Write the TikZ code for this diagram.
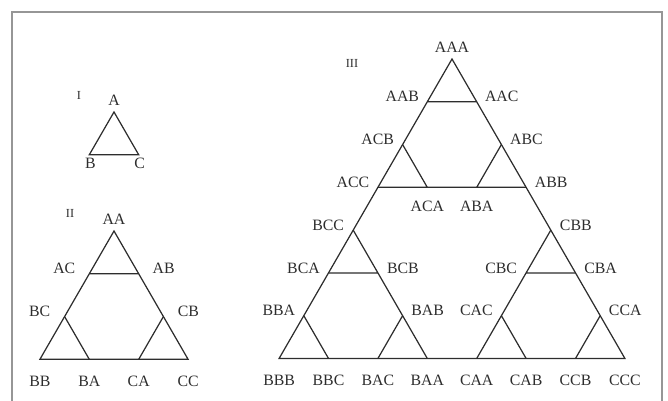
\documentclass[tikz,border=0pt]{standalone}
\usepackage{fontspec}
\setmainfont{Liberation Serif}
\usepackage{xcolor}
\usetikzlibrary{calc, math}
\definecolor{ink}{RGB}{45,45,45}
\definecolor{framegray}{RGB}{150,150,150}

\tikzset{
  lbl/.style={font=\fontsize{9}{11}\selectfont, text=ink, inner sep=0pt},
  lblL/.style={lbl, shift={(-25,5)}},
  lblR/.style={lbl, shift={(25,5)}},
  lblT/.style={lbl, shift={(0,12)}},
  lblB/.style={lbl, shift={(0,-19)}},
  lblD/.style={lbl, shift={(0,-22)}},
  lblS/.style={lbl, shift={(1,-9)}},
  numeral/.style={font=\fontsize{7}{8}\selectfont, text=ink, inner sep=0pt},
  edge/.style={draw=ink, line width=0.7pt, line join=miter}
}

\begin{document}
\begin{tikzpicture}[x=0.02cm, y=0.02cm]
\tikzmath{
\u=49.4;
}
\useasboundingbox (0,0) rectangle (668,401);
\draw[framegray, line width=0.8pt] (12,0) -- (12,389) -- (662,389) -- (662,0);

% I
\coordinate (A) at (114,289);
\coordinate (B) at ($(A)+(240:\u)$);
\coordinate (C) at ($(A)+(300:\u)$);
\draw[edge] (A) -- (B) -- (C) -- cycle;
\node[numeral] (nI) at (79,306) {I};
\node[lblT] (tA) at (A) {A};
\node[lblS] (tB) at (B) {B};
\node[lblS] (tC) at (C) {C};

% II
\coordinate (AA) at (114,170);
\coordinate (AC) at ($(AA)+(240:\u)$);
\coordinate (AB) at ($(AA)+(300:\u)$);
\coordinate (BC) at ($(AA)+(240:2*\u)$);
\coordinate (BB) at ($(AA)+(240:3*\u)$);
\coordinate (CB) at ($(AA)+(300:2*\u)$);
\coordinate (CC) at ($(AA)+(300:3*\u)$);
\coordinate (BA) at ($(BB)+(\u,0)$);
\coordinate (CA) at ($(BB)+(2*\u,0)$);
\draw[edge] (AA) -- (BB) -- (CC) -- cycle;
\draw[edge] (AC) -- (AB) (BC) -- (BA) (CB) -- (CA);
\node[numeral] (nII) at (70,188) {II};
\node[lblT] (tAA) at (AA) {AA};
\node[lblL] (tAC) at (AC) {AC};
\node[lblR] (tAB) at (AB) {AB};
\node[lblL] (tBC) at (BC) {BC};
\node[lblR] (tCB) at (CB) {CB};
\node[lblD] (tBB) at (BB) {BB};
\node[lblD] (tBA) at (BA) {BA};
\node[lblD] (tCA) at (CA) {CA};
\node[lblD] (tCC) at (CC) {CC};

% III
\coordinate (AAA) at (452,342);
\coordinate (AAB) at ($(AAA)+(240:\u)$);
\coordinate (AAC) at ($(AAA)+(300:\u)$);
\coordinate (ACB) at ($(AAA)+(240:2*\u)$);
\coordinate (ACC) at ($(AAA)+(240:3*\u)$);
\coordinate (ABC) at ($(AAA)+(300:2*\u)$);
\coordinate (ABB) at ($(AAA)+(300:3*\u)$);
\coordinate (ACA) at ($(ACC)+(\u,0)$);
\coordinate (ABA) at ($(ABB)-(\u,0)$);
\coordinate (BCC) at ($(AAA)+(240:4*\u)$);
\coordinate (BCA) at ($(AAA)+(240:5*\u)$);
\coordinate (BBA) at ($(AAA)+(240:6*\u)$);
\coordinate (BBB) at ($(AAA)+(240:7*\u)$);
\coordinate (BCB) at ($(BCC)+(300:\u)$);
\coordinate (BAB) at ($(BCC)+(300:2*\u)$);
\coordinate (CBB) at ($(AAA)+(300:4*\u)$);
\coordinate (CBA) at ($(AAA)+(300:5*\u)$);
\coordinate (CCA) at ($(AAA)+(300:6*\u)$);
\coordinate (CCC) at ($(AAA)+(300:7*\u)$);
\coordinate (CBC) at ($(CBB)+(240:\u)$);
\coordinate (CAC) at ($(CBB)+(240:2*\u)$);
\coordinate (BBC) at ($(BBB)+(\u,0)$);
\coordinate (BAC) at ($(BBB)+(2*\u,0)$);
\coordinate (BAA) at ($(BBB)+(3*\u,0)$);
\coordinate (CAA) at ($(BBB)+(4*\u,0)$);
\coordinate (CAB) at ($(BBB)+(5*\u,0)$);
\coordinate (CCB) at ($(BBB)+(6*\u,0)$);

\draw[edge] (AAA) -- (BBB) -- (CCC) -- cycle;
\draw[edge] (AAB) -- (AAC) (ACB) -- (ACA) (ABC) -- (ABA) (ACC) -- (ABB);
\draw[edge] (BCA) -- (BCB) (BBA) -- (BBC) (BAB) -- (BAC) (BCC) -- (BAA);
\draw[edge] (CBC) -- (CBA) (CAC) -- (CAB) (CCA) -- (CCB) (CBB) -- (CAA);

\node[numeral] (nIII) at (352,338) {III};
\node[lblT] (tAAA) at (AAA) {AAA};
\node[lblL] (tAAB) at (AAB) {AAB};
\node[lblR] (tAAC) at (AAC) {AAC};
\node[lblL] (tACB) at (ACB) {ACB};
\node[lblR] (tABC) at (ABC) {ABC};
\node[lblL] (tACC) at (ACC) {ACC};
\node[lblR] (tABB) at (ABB) {ABB};
\node[lblB] (tACA) at (ACA) {ACA};
\node[lblB] (tABA) at (ABA) {ABA};
\node[lblL] (tBCC) at (BCC) {BCC};
\node[lblR] (tCBB) at (CBB) {CBB};
\node[lblL] (tBCA) at (BCA) {BCA};
\node[lblR] (tBCB) at (BCB) {BCB};
\node[lblL] (tCBC) at (CBC) {CBC};
\node[lblR] (tCBA) at (CBA) {CBA};
\node[lblL] (tBBA) at (BBA) {BBA};
\node[lblR] (tBAB) at (BAB) {BAB};
\node[lblL] (tCAC) at (CAC) {CAC};
\node[lblR] (tCCA) at (CCA) {CCA};
\foreach \v in {BBB,BBC,BAC,BAA,CAA,CAB,CCB,CCC}
  \node[lblD] (t\v) at (\v) {\v};
\end{tikzpicture}
\end{document}
